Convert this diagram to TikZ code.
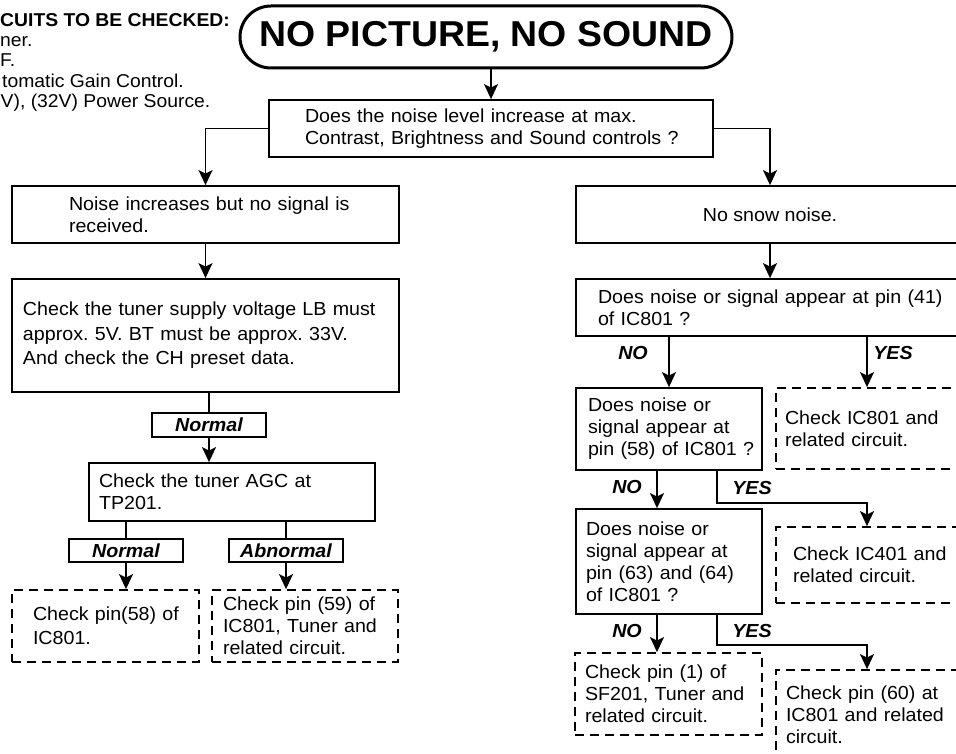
\documentclass[tikz,border=0pt]{standalone}
\usepackage{fontspec}
\setmainfont{Liberation Sans}[FakeStretch=1.04]
\frenchspacing
\usetikzlibrary{arrows.meta,positioning}

\tikzset{
  every node/.style = {font=\fontsize{18.9}{22}\selectfont},
  note/.style = {anchor=base west, inner sep=0pt, font=\fontsize{18.6}{22}\selectfont},
  box/.style = {draw, line width=1.8pt, align=left, inner ysep=0pt},
  dbox/.style = {box, dash pattern=on 9pt off 6pt},
  tag/.style = {draw, line width=1.8pt, inner sep=0pt, font=\fontsize{18.9}{22}\selectfont\bfseries\itshape},
  yn/.style = {inner sep=0pt, font=\fontsize{18.9}{22}\selectfont\bfseries\itshape},
  link/.style = {line width=1.8pt},
  flow/.style = {link, -{Stealth[length=15pt,width=14pt,inset=3.5pt]}}
}

\begin{document}
\begin{tikzpicture}[x=1pt, y=-1pt]
    \useasboundingbox (0,0) rectangle (956,754);
    % list of circuits, cut at the left edge
    \node (hdr1) [note, font=\fontsize{18.6}{22}\selectfont\bfseries] at (0,27) {CUITS TO BE CHECKED:};
    \node (hdr2) [note] at (0,47) {ner.};
    \node (hdr3) [note] at (0,67) {F.};
    \node (hdr4) [note] at (2,88) {tomatic Gain Control.};
    \node (hdr5) [note] at (0.5,108) {V), (32V) Power Source.};
    % title and first question
    \node (title) [draw, line width=3pt, rounded corners=31pt, minimum width=492pt, minimum height=62pt,
                   font=\fontsize{36}{40}\selectfont\bfseries] at (486,37) {NO PICTURE, NO SOUND};
    \node (q1) [box, text width=372pt, inner xsep=36pt, minimum height=57pt] at (491,128.5)
        {Does the noise level increase at max.\\\mbox{Contrast, Brightness and Sound controls ?}};
    % left branch
    \node (noiseinc) [box, text width=273pt, inner xsep=57pt, minimum height=57pt] at (205.5,214.5)
        {\mbox{Noise increases but no signal is}\\received.};
    \node (tuner) [box, text width=365pt, inner xsep=11pt, minimum height=113pt,
                   font=\fontsize{18.9}{24.5}\selectfont] at (205.5,335.5)
        {Check the tuner supply voltage LB must\\approx. 5V. BT must be approx. 33V.\\And check the CH preset data.};
    \node (normal1) [tag, minimum width=114pt, minimum height=24pt] at (209,425) {Normal};
    \node (agc) [box, text width=266pt, inner xsep=10pt, minimum height=58pt] at (232,492)
        {Check the tuner AGC at\\TP201.};
    \node (normal2) [tag, minimum width=114pt, minimum height=23pt] at (126,550.5) {Normal};
    \node (abnormal) [tag, minimum width=114pt, minimum height=23pt] at (286,550.5) {Abnormal};
    \node (pin58) [dbox, text width=145pt, inner xsep=21pt, minimum height=72pt,
                   font=\fontsize{18.9}{24}\selectfont] at (105.5,626)
        {\mbox{Check pin(58) of}\\IC801.};
    \node (pin59) [dbox, text width=164pt, inner xsep=11pt, minimum height=72pt] at (305,626)
        {Check pin (59) of\\\mbox{IC801, Tuner and}\\related circuit.};
    % right branch
    \node (nosnow) [box, minimum width=388pt, minimum height=57pt, align=center] at (770,214.5) {No snow noise.};
    \node (q41) [box, text width=344pt, inner xsep=22pt, minimum height=57pt] at (770,307.5)
        {\mbox{Does noise or signal appear at pin (41)}\\of IC801 ?};
    \node (q58) [box, text width=162pt, inner xsep=12pt, minimum height=82pt] at (669,429)
        {Does noise or\\signal appear at\\\mbox{pin (58) of IC801 ?}};
    \node (ic801) [dbox, text width=164pt, inner xsep=9pt, minimum height=81pt] at (867,428.5)
        {\mbox{Check IC801 and}\\related circuit.};
    \node (q6364) [box, text width=166pt, inner xsep=10pt, minimum height=105pt] at (669,561.5)
        {Does noise or\\signal appear at\\\mbox{pin (63) and (64)}\\of IC801 ?};
    \node (ic401) [dbox, text width=148pt, inner xsep=17pt, minimum height=76pt] at (867,565)
        {\mbox{Check IC401 and}\\related circuit.};
    \node (sf201) [dbox, text width=167pt, inner xsep=10pt, minimum height=82pt] at (668.5,694)
        {Check pin (1) of\\\mbox{SF201, Tuner and}\\related circuit.};
    \node (pin60) [dbox, text width=162pt, inner xsep=10pt, minimum height=90pt] at (867,715)
        {Check pin (60) at\\\mbox{IC801 and related}\\circuit.};
    % answers
    \node (no1) [yn] at (633,353) {NO};
    \node (yes1) [yn] at (893,353) {YES};
    \node (no2) [yn] at (627,487) {NO};
    \node (yes2) [yn] at (752,488) {YES};
    \node (no3) [yn] at (627,631) {NO};
    \node (yes3) [yn] at (752,631) {YES};
    % connectors
    \draw[flow] (q1.north |- title.south) -- (q1.north);
    \draw[flow] (q1.west) -| (noiseinc.north);
    \draw[flow] (q1.east) -| (nosnow.north);
    \draw[flow] (noiseinc) -- (tuner);
    \draw[link] (normal1.north |- tuner.south) -- (normal1.north);
    \draw[flow] (normal1.south) -- (normal1.south |- agc.north);
    \draw[link] (normal2.north |- agc.south) -- (normal2.north);
    \draw[flow] (normal2.south) -- (normal2.south |- pin58.north);
    \draw[link] (abnormal.north |- agc.south) -- (abnormal.north);
    \draw[flow] (abnormal.south) -- (abnormal.south |- pin59.north);
    \draw[flow] (nosnow) -- (q41);
    \draw[flow] (q58.north |- q41.south) -- (q58.north);
    \draw[flow] (ic801.north |- q41.south) -- (ic801.north);
    \draw[flow] ([xshift=-12pt]q58.south) -- ([xshift=-12pt]q6364.north);
    \draw[flow] ([xshift=48pt]q58.south) -- ++(0,32) -| (ic401.north);
    \draw[flow] ([xshift=-12pt]q6364.south) -- ([xshift=-12pt]q6364.south |- sf201.north);
    \draw[flow] ([xshift=48pt]q6364.south) -- ++(0,30) -| (pin60.north);
\end{tikzpicture}
\end{document}
